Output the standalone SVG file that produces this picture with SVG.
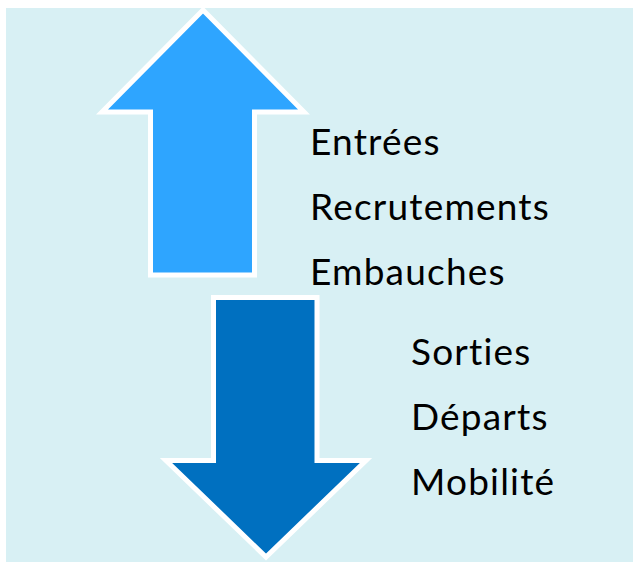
<svg xmlns="http://www.w3.org/2000/svg" width="633" height="562" viewBox="0 0 633 562">
<style>
.arrow{stroke:#FFFFFF;stroke-width:5;stroke-linejoin:miter;stroke-miterlimit:10}
.lbl{font-family:Lato,"Open Sans","Liberation Sans",sans-serif;font-size:37px;letter-spacing:1.2px;font-variant-ligatures:none;fill:#000000}
</style>
<rect x="6" y="8" width="627" height="554" fill="#D8F0F4"/>
<g id="arrow-up">
<polygon class="arrow" fill="#2EA5FF" points="203,10 304,112 254.5,112 254.5,275 150.5,275 150.5,112 102,112"/>
</g>
<g id="arrow-down">
<polygon class="arrow" fill="#0070C0" points="213.5,297.5 317,297.5 317,460.5 366,460.5 266,557 166,460.5 213.5,460.5"/>
</g>
<g id="labels-in">
<text class="lbl" x="310" y="155">Entrées</text>
<text class="lbl" x="310" y="220">Recrutements</text>
<text class="lbl" x="310" y="285">Embauches</text>
</g>
<g id="labels-out">
<text class="lbl" x="411" y="365">Sorties</text>
<text class="lbl" x="411" y="430">Départs</text>
<text class="lbl" x="411" y="495">Mobilité</text>
</g>
<g id="connectors"></g>
</svg>
